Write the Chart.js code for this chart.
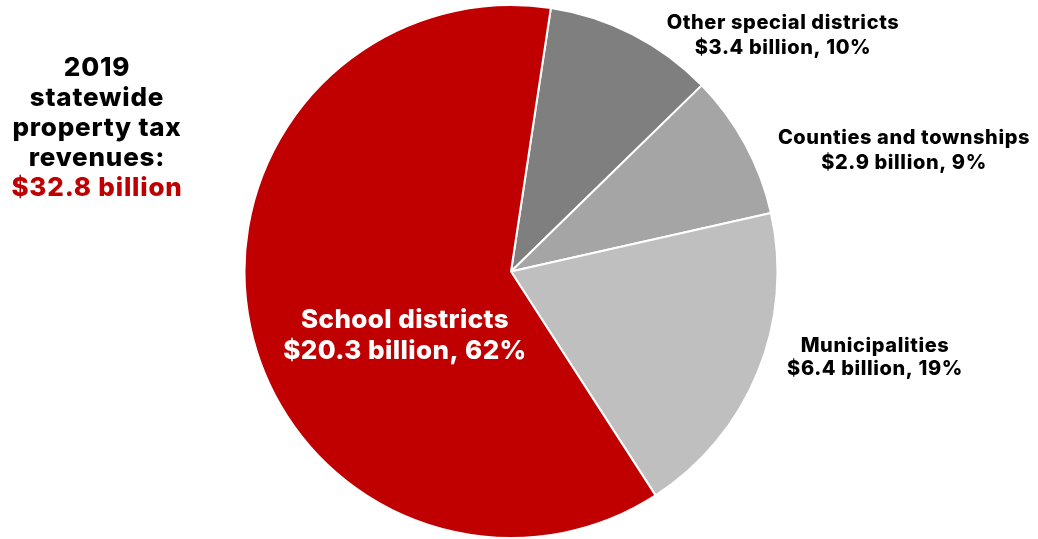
<!DOCTYPE html>
<html>
<head>
<meta charset="utf-8">
<script src="https://cdn.jsdelivr.net/npm/chart.js@4"></script>
<style>
  body { margin: 0; background: #fff; }
  #wrap { width: 1038px; height: 539px; position: relative; }
</style>
</head>
<body>
<div id="wrap"><canvas id="myChart" width="1038" height="539"></canvas></div>
<script>
// values in billions of dollars
const categories = ['Other special districts', 'Counties and townships', 'Municipalities', 'School districts']
const revenues = [3.4, 2.9, 6.4, 20.3]
const percents = ['10%', '9%', '19%', '62%']
const totalLabel = '$32.8 billion'
const titleLines = ['2019', 'statewide', 'property tax', 'revenues:']

const colors = ['#7f7f7f', '#a5a5a5', '#bfbfbf', '#c00000']
const fontFamily = 'Inter, Lato, sans-serif'

// label placement, offsets from pie centre
const labelSpots = [
    { dx: 272, dy: -249, color: '#000', size: 20, gap: 25, spacing: 0.6 },
    { dx: 393, dy: -134, color: '#000', size: 20, gap: 25, spacing: 0.6 },
    { dx: 364, dy: 74, color: '#000', size: 20, gap: 23, spacing: 0.6 },
    { dx: -106, dy: 49, color: '#fff', size: 26, gap: 31, spacing: 0.4 }
]

const labelPlugin = {
    id: 'sliceLabels',
    afterDatasetsDraw(chart) {
        const ctx = chart.ctx
        const arc = chart.getDatasetMeta(0).data[0]
        const cx = arc.x, cy = arc.y
        ctx.save()
        ctx.textAlign = 'center'
        ctx.textBaseline = 'middle'
        for (let i = 0; i < categories.length; i++) {
            const s = labelSpots[i]
            ctx.fillStyle = s.color
            ctx.font = `800 ${s.size}px ${fontFamily}`
            ctx.letterSpacing = s.spacing + 'px'
            ctx.fillText(categories[i], cx + s.dx, cy + s.dy)
            ctx.fillText('$' + revenues[i] + ' billion, ' + percents[i], cx + s.dx, cy + s.dy + s.gap)
        }
        // side title
        ctx.font = `800 26px ${fontFamily}`
        ctx.letterSpacing = '0.8px'
        ctx.fillStyle = '#000'
        for (let j = 0; j < titleLines.length; j++) {
            ctx.fillText(titleLines[j], 97, 68 + j * 30)
        }
        ctx.fillStyle = '#c00000'
        ctx.fillText(totalLabel, 97, 188)
        ctx.restore()
    }
}

let myChart = document.getElementById('myChart').getContext('2d')
let propertyPie = new Chart(myChart, {
    type: 'pie',
    data: {
        labels: categories,
        datasets: [{
            data: revenues,
            backgroundColor: colors,
            borderColor: '#fff',
            borderWidth: 2,
            hoverOffset: 0
        }]
    },
    options: {
        responsive: false,
        animation: false,
        events: [],
        rotation: 8.6,
        layout: { padding: { top: 4, bottom: 0, left: 0, right: 16 } },
        plugins: {
            legend: { display: false },
            tooltip: { enabled: false }
        }
    },
    plugins: [labelPlugin]
})
</script>
</body>
</html>
